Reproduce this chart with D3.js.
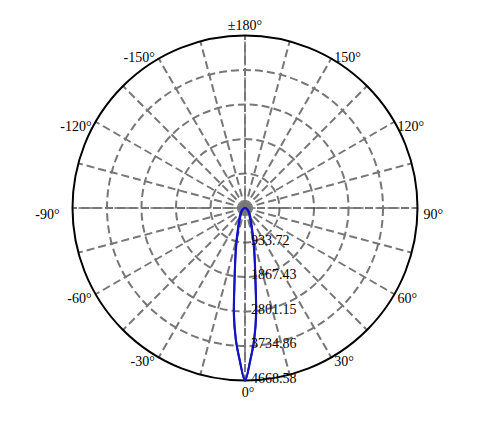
<!DOCTYPE html>
<html lang="en">
<head>
    <meta charset="UTF-8">
    <title>polar intensity</title>
    <script src="https://d3js.org/d3.v7.min.js"></script>
    <style>
        body { margin: 0; background: #fff; }
        .lbl { font-family: 'Liberation Serif', 'Times New Roman', serif; font-size: 14px; fill: #000; }
    </style>
</head>
<body>
    <div id="chart"></div>
    <script>
        const width = 477;
        const height = 424;
        const cx = 245, cy = 208;
        const R = 172.5;

        // measured angles (deg from beam axis) and intensities (cd)
        const angles = [0, 2, 4, 6, 8, 10, 12, 15, 20, 25, 30, 40, 50, 60, 70, 80, 90];
        const c0Values = [4668.58, 4130, 3580, 2900, 2060, 1560, 1230, 880, 540, 390, 300, 190, 120, 70, 35, 12, 0];
        const c90Values = [4668.58, 4110, 3550, 2860, 2030, 1530, 1190, 830, 480, 320, 240, 150, 95, 55, 28, 10, 0];
        const ringValues = [933.72, 1867.43, 2801.15, 3734.86, 4668.58];
        const angleTicks = [0, 30, 60, 90, 120, 150, 180, -150, -120, -90, -60, -30];
        const gridAngles = d3.range(0, 360, 15);

        const rScale = d3.scaleLinear().domain([0, 4668.58]).range([0, R]);
        const rad = d => d * Math.PI / 180;
        // 0 deg at bottom, positive angles to the right
        const px = (deg, r) => cx + r * Math.sin(rad(deg));
        const py = (deg, r) => cy + r * Math.cos(rad(deg));

        const svg = d3.select("#chart")
            .append("svg")
            .attr("width", width)
            .attr("height", height);

        // dashed rings
        svg.selectAll(".ring")
            .data(ringValues.slice(0, 4))
            .enter()
            .append("circle")
            .attr("cx", cx)
            .attr("cy", cy)
            .attr("r", d => rScale(d))
            .attr("fill", "none")
            .attr("stroke", "#777")
            .attr("stroke-width", 2)
            .attr("stroke-dasharray", "8,4");

        // axis lines (darker, thin) under the dashes
        [0, 90].forEach(a => {
            svg.append("line")
                .attr("x1", px(a, R)).attr("y1", py(a, R))
                .attr("x2", px(a + 180, R)).attr("y2", py(a + 180, R))
                .attr("stroke", "#222")
                .attr("stroke-width", 1)
                .attr("stroke-dasharray", "6,3");
        });

        // radial spokes every 15 deg
        svg.selectAll(".spoke")
            .data(gridAngles)
            .enter()
            .append("line")
            .attr("x1", cx)
            .attr("y1", cy)
            .attr("x2", d => px(d, R))
            .attr("y2", d => py(d, R))
            .attr("stroke", "#777")
            .attr("stroke-width", 2)
            .attr("stroke-dasharray", "8,4");

        // outer circle
        svg.append("circle")
            .attr("cx", cx)
            .attr("cy", cy)
            .attr("r", R)
            .attr("fill", "none")
            .attr("stroke", "#000")
            .attr("stroke-width", 2);

        // intensity curves, mirrored for both sides
        const line = d3.lineRadial()
            .angle(d => Math.PI - rad(d.a))
            .radius(d => rScale(d.v))
            .curve(d3.curveCardinalClosed);

        function series(vals) {
            const pts = [];
            for (let i = angles.length - 1; i > 0; i--) pts.push({ a: -angles[i], v: vals[i] });
            for (let i = 0; i < angles.length; i++) pts.push({ a: angles[i], v: vals[i] });
            return pts;
        }

        const plot = svg.append("g").attr("transform", `translate(${cx},${cy})`);
        [c0Values, c90Values].forEach(vals => {
            plot.append("path")
                .attr("d", line(series(vals)))
                .attr("fill", "none")
                .attr("stroke", "#1414c0")
                .attr("stroke-width", 2);
        });

        // ring value labels
        svg.selectAll(".rlbl")
            .data(ringValues)
            .enter()
            .append("text")
            .attr("class", "lbl")
            .attr("x", cx + 6)
            .attr("y", d => cy + rScale(d) - 1)
            .attr("dominant-baseline", "middle")
            .text(d => d.toFixed(2));

        // angle labels
        svg.selectAll(".albl")
            .data(angleTicks)
            .enter()
            .append("text")
            .attr("class", "lbl")
            .attr("x", d => {
                if (d === 0) return px(d, R) + 3;
                if (d === 180) return px(d, R);
                if (Math.abs(d) === 90) return px(d, R) + (d < 0 ? -13 : 6);
                return px(d, R) + (d < 0 ? -4 : 3);
            })
            .attr("y", d => {
                if (d === 180) return py(d, R) - 6;
                if (d === 0) return py(d, R) + 16;
                if (Math.abs(d) === 150) return py(d, R) + 3;
                if (Math.abs(d) === 90) return py(d, R) + 11;
                return py(d, R) + 9;
            })
            .attr("text-anchor", d => (d === 0 || d === 180) ? "middle" : (d < 0 ? "end" : "start"))
            .text(d => d === 180 ? "±180°" : d + "°");
    </script>
</body>
</html>
